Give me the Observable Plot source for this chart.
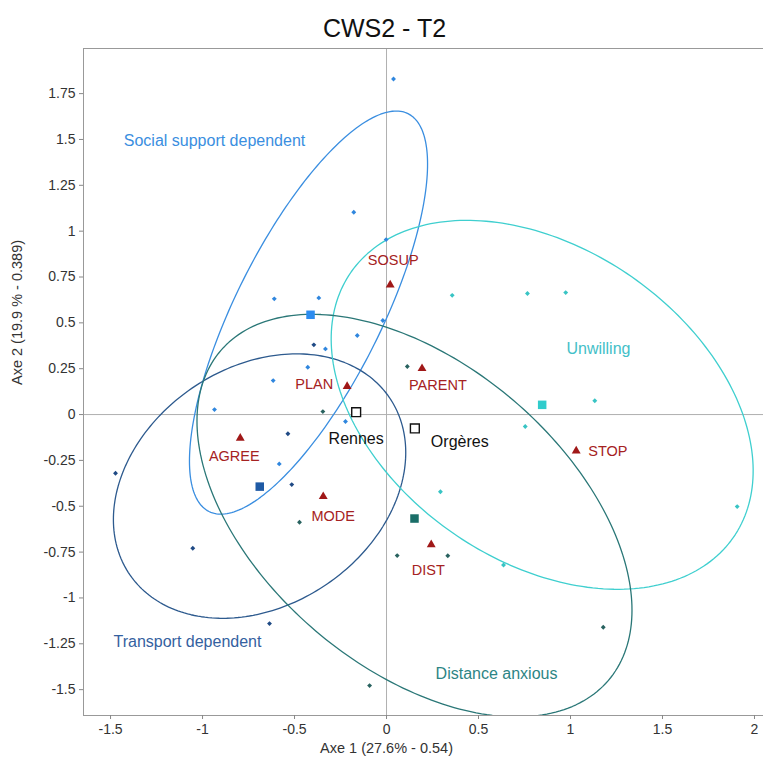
<!DOCTYPE html>
<html><head><meta charset="utf-8">
<script src="https://cdn.jsdelivr.net/npm/d3@7"></script>
<script src="https://cdn.jsdelivr.net/npm/@observablehq/plot@0.6"></script>
<style>
body{margin:0;background:#fff;}
#title{height:40px;box-sizing:border-box;padding-top:15px;padding-left:6px;text-align:center;font-family:"Liberation Sans",Arial,sans-serif;font-size:25px;line-height:26px;color:#111;}
#chart svg{display:block;}
</style></head><body>
<div id="title">CWS2 - T2</div>
<div id="chart"></div>
<script>
// ---------- data ----------
const groupNames = ["Social support dependent", "Transport dependent", "Unwilling", "Distance anxious"];
// group label positions (data coords)
const groupLabelX = [-0.935, -1.082, 1.152, 0.598];
const groupLabelY = [1.494, -1.238, 0.360, -1.412];
// concentration ellipses
const ellipseCx = [-0.424, -0.690, 0.846, 0.152];
const ellipseCy = [0.556, -0.390, 0.053, -0.551];
const ellipseA = [1.212, 0.855, 1.266, 1.385];
const ellipseB = [0.397, 0.648, 0.851, 0.827];
const ellipseAngle = [63.5, 34.5, -34.9, -40.5];
// group centroids (squares)
const centroidX = [-0.413, -0.689, 0.846, 0.152];
const centroidY = [0.544, -0.393, 0.053, -0.567];
// individuals (diamonds)
const pointGroup = [0,0,0,0,0,0,0,0,0,0,0,0,0, 1,1,1,1,1,1, 3,3,3,3,3,3,3, 2,2,2,2,2,2,2,2];
const pointX = [0.038,-0.178,-0.002,-0.610,-0.368,-0.020,-0.159,-0.332,-0.428,-0.616,-0.935,-0.223,-0.583,
  -0.395,-0.536,-1.473,-0.515,-1.053,-0.636,
  0.113,-0.346,-0.473,0.058,0.333,-0.092,1.178,
  0.357,0.766,0.974,1.132,0.754,0.293,1.906,0.636];
const pointY = [1.830,1.103,0.954,0.631,0.636,0.513,0.431,0.358,0.258,0.185,0.027,-0.038,-0.269,
  0.380,-0.105,-0.320,-0.382,-0.729,-1.140,
  0.262,0.016,-0.587,-0.769,-0.770,-1.478,-1.160,
  0.650,0.660,0.665,0.075,-0.065,-0.421,-0.502,-0.820];
// active modalities (triangles)
const modLabels = ["SOSUP", "PARENT", "PLAN", "AGREE", "MODE", "DIST", "STOP"];
const modX = [0.020, 0.193, -0.214, -0.795, -0.344, 0.243, 1.031];
const modY = [0.707, 0.251, 0.153, -0.129, -0.447, -0.709, -0.198];
// supplementary (hollow squares)
const supLabels = ["Rennes", "Orgères"];
const supX = [-0.165, 0.154];
const supY = [0.013, -0.076];
// axes
const xTicks = [-1.5, -1, -0.5, 0, 0.5, 1, 1.5, 2];
const yTicks = [-1.5, -1.25, -1, -0.75, -0.5, -0.25, 0, 0.25, 0.5, 0.75, 1, 1.25, 1.5, 1.75];
const xLabel = "Axe 1 (27.6% - 0.54)";
const yLabel = "Axe 2 (19.9 % - 0.389)";

// ---------- styles ----------
const ellipseColor = ["#3a8ee0", "#2d5a8e", "#3fcfcf", "#2a7777"];
const pointColor = ["#2f86de", "#1f4a85", "#38c4c4", "#28625f"];
const squareColor = ["#2b8cf0", "#1f5aa5", "#30cccc", "#1a6e68"];
const textColor = ["#3a8ee0", "#3461a0", "#44c0c8", "#2d8585"];
const red = "#a01818";
const modStyle = {
  SOSUP: {dx: 3, dy: -25, anchor: "middle"},
  PARENT: {dx: -13, dy: 17, anchor: "start"},
  PLAN: {dx: -14, dy: -2, anchor: "end"},
  AGREE: {dx: -6, dy: 18, anchor: "middle"},
  MODE: {dx: 10, dy: 20, anchor: "middle"},
  DIST: {dx: -3, dy: 26, anchor: "middle"},
  STOP: {dx: 12, dy: 0, anchor: "start"}
};
const supStyle = {
  "Rennes": {dx: 0, dy: 27, anchor: "middle"},
  "Orgères": {dx: 16, dy: 13, anchor: "start"}
};

// ellipse outlines
const ellipseRows = [];
groupNames.forEach((g, i) => {
  const th = ellipseAngle[i] * Math.PI / 180;
  for (let k = 0; k <= 240; k++) {
    const t = k / 240 * 2 * Math.PI;
    const u = ellipseA[i] * Math.cos(t), v = ellipseB[i] * Math.sin(t);
    ellipseRows.push({g: i, x: ellipseCx[i] + u * Math.cos(th) - v * Math.sin(th), y: ellipseCy[i] + u * Math.sin(th) + v * Math.cos(th)});
  }
});
const pts = pointX.map((x, i) => ({x, y: pointY[i], g: pointGroup[i]}));
const cents = centroidX.map((x, i) => ({x, y: centroidY[i], g: i}));

const fontFam = "Liberation Sans, Arial, sans-serif";
const marks = [
  Plot.ruleX([0], {stroke: "#b0b0b0", strokeWidth: 1}),
  Plot.ruleY([0], {stroke: "#b0b0b0", strokeWidth: 1}),
  Plot.frame({stroke: "#999"}),
  Plot.axisX({ticks: xTicks, tickFormat: d => String(d), tickSize: 4, tickPadding: 5, stroke: "#888", fontSize: 14, label: null}),
  Plot.axisY({ticks: yTicks, tickFormat: d => String(d), tickSize: 4, tickPadding: 4, stroke: "#888", fontSize: 14, label: null}),
  Plot.text([xLabel], {x: [0], frameAnchor: "bottom", dy: 37, fontSize: 14.5, fill: "#333"}),
  Plot.text([yLabel], {frameAnchor: "left", rotate: -90, dx: -66, dy: 3, fontSize: 14.5, fill: "#333"}),
  Plot.line(ellipseRows, {x: "x", y: "y", z: "g", stroke: d => ellipseColor[d.g], strokeWidth: 1.3, clip: true}),
  Plot.dot(pts, {x: "x", y: "y", symbol: "diamond2", r: 2.2, fill: d => pointColor[d.g], stroke: "none"}),
  Plot.dot(cents, {x: "x", y: "y", symbol: "square", r: 4.8, fill: d => squareColor[d.g], stroke: "none"}),
  Plot.dot(modLabels, {x: (d, i) => modX[i], y: (d, i) => modY[i], symbol: "triangle", r: 3.3, fill: red, stroke: "none"}),
  Plot.dot(supLabels, {x: (d, i) => supX[i], y: (d, i) => supY[i], symbol: "square", r: 5, fill: "white", stroke: "#111", strokeWidth: 1.4}),
  Plot.text(groupNames, {x: groupLabelX, y: groupLabelY, text: d => d, fill: d => textColor[groupNames.indexOf(d)], fontSize: 16})
];
modLabels.forEach((m, i) => {
  const s = modStyle[m];
  marks.push(Plot.text([m], {x: [modX[i]], y: [modY[i]], text: d => d, dx: s.dx, dy: s.dy, textAnchor: s.anchor, fill: "#a52222", fontSize: 14.5}));
});
supLabels.forEach((m, i) => {
  const s = supStyle[m];
  marks.push(Plot.text([m], {x: [supX[i]], y: [supY[i]], text: d => d, dx: s.dx, dy: s.dy, textAnchor: s.anchor, fill: "#111", fontSize: 16}));
});

const chart = Plot.plot({
  width: 763, height: 725,
  marginTop: 8, marginBottom: 50, marginLeft: 83, marginRight: 0,
  style: {fontFamily: fontFam, fontSize: "14px", color: "#333", background: "#fff", overflow: "visible"},
  x: {domain: [-1.647, 2.049]},
  y: {domain: [-1.641, 1.996]},
  marks
});
document.getElementById("chart").appendChild(chart);
</script></body></html>
